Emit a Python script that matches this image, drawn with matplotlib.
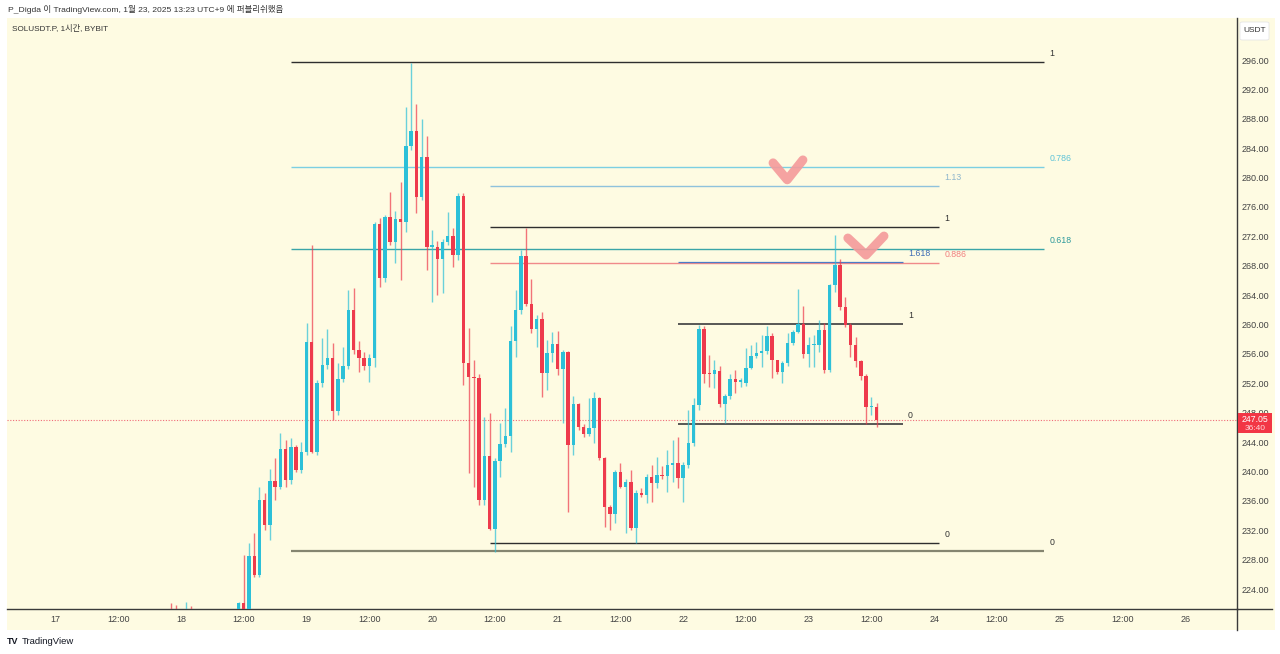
import matplotlib
matplotlib.use("Agg")
import matplotlib.pyplot as plt
from matplotlib.patches import Rectangle, FancyBboxPatch
from matplotlib.lines import Line2D
import numpy as np

# ---------------- data ----------------
# hourly candles, hour index relative to 18 Jan 00:00 (UTC+9): -2 .. 133
hours = list(range(-2, 134))
opens = [
    221.3, 220.6, 220.1, 220.5, 221.0, 220.3, 219.8, 220.2, 219.6, 220.0,      # -2..7
    219.5, 219.9, 220.3, 220.6, 222.09, 220.9, 228.49, 225.90, 236.11, 232.71,  # 8..17
    238.70, 237.88, 243.05, 238.83, 243.33, 240.19, 242.64, 257.62, 242.64, 252.04,
    254.49, 255.44, 248.23, 252.58, 254.35, 261.97, 256.53, 255.44, 254.35, 255.44,
    273.68, 266.33, 274.63, 271.23, 274.36, 273.95, 284.29, 286.34, 277.35, 282.80,
    270.55, 270.55, 268.91, 271.23, 272.04, 269.46, 277.49, 254.76, 252.85, 252.72,
    236.11, 242.10, 232.16, 241.42, 243.73, 244.82, 257.75, 261.97, 269.32, 262.79,
    259.39, 260.75, 253.40, 256.12, 257.34, 253.94, 256.26, 243.60, 249.18, 246.05,
    245.09, 245.91, 250.00, 241.83, 235.16, 234.21, 239.92, 237.88, 238.56, 232.30,
    237.06, 236.79, 239.24, 238.43, 239.51, 239.38, 240.88, 241.15, 239.11, 240.88,
    243.87, 249.04, 259.39, 253.40, 253.26, 253.67, 249.18, 250.27, 252.58, 252.17,
    252.04, 254.08, 255.71, 256.12, 256.39, 258.43, 255.17, 253.53, 254.76, 257.48,
    258.98, 260.07, 255.98, 257.21, 257.21, 259.25, 253.81, 265.37, 268.10, 262.38,
    259.93, 257.21, 255.03, 252.99, 248.77, 248.80]
closes = [
    220.6, 220.1, 220.5, 221.0, 220.3, 219.8, 220.2, 219.6, 220.0, 219.5,
    219.9, 220.3, 220.6, 222.09, 220.9, 228.49, 225.90, 236.11, 232.71, 238.70,
    237.88, 243.05, 238.83, 243.33, 240.19, 242.64, 257.62, 242.64, 252.04, 254.49,
    255.44, 248.23, 252.58, 254.35, 261.97, 256.53, 255.44, 254.35, 255.44, 273.68,
    266.33, 274.63, 271.23, 274.36, 273.95, 284.29, 286.34, 277.35, 282.80, 270.55,
    270.82, 268.91, 271.23, 272.04, 269.46, 277.49, 254.76, 252.85, 252.72, 236.11,
    242.10, 232.16, 241.42, 243.73, 244.82, 257.75, 261.97, 269.32, 262.79, 259.39,
    260.75, 253.40, 256.12, 257.34, 253.94, 256.26, 243.60, 249.18, 246.05, 245.09,
    245.91, 250.00, 241.83, 235.16, 234.21, 239.92, 237.88, 238.56, 232.30, 237.06,
    236.79, 239.24, 238.43, 239.51, 239.38, 240.88, 241.15, 239.11, 240.88, 243.87,
    249.04, 259.39, 253.26, 253.26, 253.81, 249.18, 250.27, 252.58, 252.17, 252.44,
    254.08, 255.71, 256.12, 256.39, 258.43, 255.17, 253.53, 254.76, 257.48, 258.98,
    260.07, 255.98, 257.21, 257.34, 259.25, 253.81, 265.37, 268.10, 262.38, 259.93,
    257.21, 255.03, 252.99, 248.77, 248.91, 247.05]
highs = [
    222.09, 221.82, 220.9, 222.2, 221.68, 220.8, 220.6, 220.7, 220.4, 220.5,
    220.3, 220.6, 220.9, 222.3, 228.63, 230.26, 231.62, 237.88, 237.06, 240.33,
    241.83, 245.23, 244.28, 244.55, 243.6, 244.01, 260.20, 270.82, 252.5, 258.16,
    259.39, 257.48, 254.76, 256.94, 264.69, 264.97, 257.75, 256.3, 256.0, 274.0,
    274.49, 274.90, 278.03, 275.45, 279.39, 289.60, 295.59, 290.01, 287.97, 285.66,
    272.86, 271.36, 271.6, 275.31, 273.13, 277.9, 277.90, 259.52, 255.17, 253.2,
    247.41, 247.95, 241.8, 246.59, 248.63, 259.79, 264.69, 270.14, 273.13, 266.19,
    261.3, 261.70, 257.89, 258.98, 259.12, 256.53, 256.4, 250.27, 249.31, 246.5,
    250.00, 250.81, 250.13, 242.0, 235.43, 240.19, 241.15, 239.0, 240.19, 237.47,
    237.75, 239.6, 240.88, 241.96, 240.74, 242.92, 244.28, 244.69, 241.3, 248.36,
    250.00, 259.93, 259.79, 255.85, 255.17, 254.35, 250.6, 253.26, 253.81, 252.72,
    256.80, 257.21, 257.62, 258.57, 259.79, 258.84, 255.17, 255.0, 258.84, 259.25,
    264.83, 262.52, 258.30, 258.57, 260.61, 260.20, 265.5, 272.18, 268.91, 263.74,
    260.20, 258.30, 255.17, 253.26, 250.13, 249.31]
lows = [
    220.2, 219.8, 219.7, 220.1, 219.9, 219.4, 219.5, 219.2, 219.3, 219.1,
    219.2, 219.6, 219.9, 220.2, 220.2, 220.5, 225.63, 225.6, 232.03, 230.67,
    236.11, 237.6, 237.88, 238.3, 239.9, 239.8, 242.2, 242.5, 242.3, 251.5,
    254.0, 247.0, 247.68, 252.2, 253.9, 256.0, 253.53, 253.8, 252.17, 254.21,
    265.10, 265.8, 270.8, 268.37, 266.06, 272.59, 283.8, 275.18, 276.9, 267.42,
    263.06, 264.01, 264.29, 270.8, 267.83, 268.78, 251.76, 239.79, 237.88, 235.43,
    235.43, 232.0, 229.03, 239.24, 243.3, 242.64, 255.58, 261.5, 262.5, 258.84,
    256.94, 250.13, 251.08, 254.89, 253.12, 246.59, 234.48, 242.24, 245.7, 244.7,
    244.8, 243.87, 241.6, 232.44, 232.03, 232.98, 237.75, 231.62, 232.1, 230.26,
    236.5, 235.70, 235.84, 237.75, 239.0, 237.20, 238.56, 237.75, 235.84, 240.5,
    243.5, 248.36, 252.04, 251.49, 251.36, 248.77, 246.59, 249.9, 250.68, 251.49,
    251.7, 253.9, 255.4, 254.21, 256.0, 252.72, 253.2, 252.04, 254.4, 257.2,
    258.84, 255.44, 254.21, 254.21, 256.26, 253.40, 253.6, 264.42, 262.0, 259.6,
    255.58, 254.21, 252.44, 246.46, 247.68, 246.05]

# Fibonacci retracement tools (price of anchor 1, price of anchor 0, start hour, end hour, levels)
fib1_high, fib1_low, fib1_x = 295.73, 229.17, (21, 165)
fib1_levels = [1, 0.786, 0.618, 0]
fib2_high, fib2_low, fib2_x = 273.27, 230.26, (59, 145)
fib2_levels = [1.13, 1, 0.886, 0]
fib3_high, fib3_low, fib3_x = 260.07, 246.46, (95, 138)
fib3_levels = [1.618, 1, 0]

last_price = 247.05
countdown = "36:40"

x_tick_hours = [-24, -12, 0, 12, 24, 36, 48, 60, 72, 84, 96, 108, 120, 132, 144, 156, 168, 180, 192]
x_tick_labels = ["17", "12:00", "18", "12:00", "19", "12:00", "20", "12:00", "21", "12:00",
                 "22", "12:00", "23", "12:00", "24", "12:00", "25", "12:00", "26"]
y_ticks = list(range(224, 297, 4))

# hand-drawn check marks (hour, price)
check1_h = [113.2, 115.9, 118.9]
check1_p = [282.0, 279.7, 282.4]
check2_h = [127.5, 130.97, 134.4]
check2_p = [271.77, 269.46, 272.04]

# ---------------- style ----------------
BG = "#fefbe2"
UP = "#2cc0d8"
DN = "#ee3a4c"
FONT = ["Liberation Sans", "Noto Sans CJK KR", "DejaVu Sans"]
plt.rcParams["font.family"] = FONT

W, H = 1280, 654
fig = plt.figure(figsize=(12.8, 6.54), dpi=100, facecolor="white")

def fx(px):
    return px / W

def fy(py):
    return 1 - py / H

# yellow panel (behind everything)
fig.patches.append(Rectangle((fx(7), fy(630)), fx(1275) - fx(7), fy(18) - fy(630),
                             transform=fig.transFigure, facecolor=BG, edgecolor="none", zorder=-10))

ax = fig.add_axes([fx(7), fy(609), fx(1237) - fx(7), fy(18) - fy(609)])
ax.set_zorder(1)
ax.set_facecolor(BG)
ax.patch.set_alpha(0)

ax.set_xlim(-33.27, 201.9)
ax.set_ylim(221.28, 301.72)

hours_a = np.array(hours)
o = np.array(opens); c = np.array(closes); hi = np.array(highs); lo = np.array(lows)
up = c >= o
cols = np.where(up, UP, DN)
ax.vlines(hours_a, lo, hi, colors=cols, linewidth=1.0, alpha=0.7, zorder=3)
bottom = np.minimum(o, c)
height = np.maximum(np.abs(c - o), 0.14)
ax.bar(hours_a, height, bottom=bottom, width=0.66, color=cols, edgecolor="none", zorder=4)

# fib tools
def draw_fib(high, low, xr, levels, styles, label_x):
    for lvl in levels:
        price = low + lvl * (high - low)
        col, lw, tcol = styles[lvl]
        ax.hlines(price, xr[0], xr[1], colors=col, linewidth=lw, zorder=2)
        lab = ("%g" % lvl)
        ax.text(label_x, price + 0.55, lab, color=tcol, fontsize=6.3, ha="left", va="bottom", zorder=6)

fib1_styles = {1: ("#2e2e2e", 1.0, "#333333"), 0.786: ("#7ccfe2", 1.0, "#5fc3d8"),
               0.618: ("#3aa5a8", 1.0, "#2e9a9c"), 0: ("#858570", 1.6, "#333333")}
fib2_styles = {1.13: ("#8fc2dc", 1.0, "#8fb6cc"), 1: ("#2e2e2e", 1.0, "#333333"),
               0.886: ("#f08a8a", 1.0, "#f07f7f"), 0: ("#2e2e2e", 1.0, "#333333")}
fib3_styles = {1.618: ("#4a7cc8", 0.9, "#3d6cb4"), 1: ("#4a4a4a", 1.3, "#333333"),
               0: ("#4a4a4a", 1.3, "#333333")}
draw_fib(fib1_high, fib1_low, fib1_x, fib1_levels, fib1_styles, fib1_x[1] + 1.1)
draw_fib(fib2_high, fib2_low, fib2_x, fib2_levels, fib2_styles, fib2_x[1] + 1.0)
draw_fib(fib3_high, fib3_low, fib3_x, fib3_levels, fib3_styles, fib3_x[1] + 1.0)

# current price dotted line
ax.axhline(last_price, color="#f06a78", linestyle=(0, (1, 1.5)), linewidth=0.8, zorder=1)

# check marks
for hh, pp in [(check1_h, check1_p), (check2_h, check2_p)]:
    ax.plot(hh, pp, color="#f49a9a", linewidth=6.5, solid_capstyle="round",
            solid_joinstyle="round", alpha=0.9, zorder=7)

# axes styling
for s in ["top", "left"]:
    ax.spines[s].set_visible(False)
ax.spines["right"].set_color("#3a3a3a")
ax.spines["bottom"].set_color("#3a3a3a")
ax.spines["right"].set_linewidth(1.0)
ax.spines["bottom"].set_linewidth(1.0)

ax.set_xticks(x_tick_hours)
ax.set_xticklabels(x_tick_labels)
ax.tick_params(axis="x", length=0, pad=4.5, labelsize=6.5, labelcolor="#444444")
ax.yaxis.tick_right()
ax.set_yticks(y_ticks)
ax.set_yticklabels(["%.2f" % v for v in y_ticks])
ax.tick_params(axis="y", length=0, pad=3.5, labelsize=6.5, labelcolor="#444444")
for lab in ax.get_yticklabels():
    lab.set_horizontalalignment("left")

# extend axis lines across margins
fig.add_artist(Line2D([fx(1237), fx(1237)], [fy(609), fy(630)], transform=fig.transFigure,
                      color="#3a3a3a", linewidth=1.0))
fig.add_artist(Line2D([fx(1237), fx(1272)], [fy(609), fy(609)], transform=fig.transFigure,
                      color="#3a3a3a", linewidth=1.0))

# price tag (drawn above the axes)
tag = Rectangle((fx(1238), fy(433)), fx(1272) - fx(1238), fy(413) - fy(433),
                transform=fig.transFigure, facecolor="#f23645", edgecolor="none", zorder=5)
fig.add_artist(tag)
fig.text(fx(1255), fy(419), "%.2f" % last_price, color="white", fontsize=6.3, ha="center", va="center", zorder=6)
fig.text(fx(1255), fy(428), countdown, color="#ffd6da", fontsize=6.0, ha="center", va="center", zorder=6)

# USDT box
fig.add_artist(FancyBboxPatch((fx(1240), fy(40)), fx(1269) - fx(1240), fy(22) - fy(40),
                              boxstyle="round,pad=0,rounding_size=0.002",
                              transform=fig.transFigure, facecolor="white", edgecolor="#e6e6e6",
                              linewidth=0.6, zorder=5))
fig.text(fx(1254.5), fy(31), "USDT", color="#333333", fontsize=6.0, ha="center", va="center", zorder=6)

# header texts
fig.text(fx(8), fy(9), "P_Digda 이 TradingView.com, 1월 23, 2025 13:23 UTC+9 에 퍼블리쉬했음",
         color="#333333", fontsize=6.1, ha="left", va="center", family=FONT)
fig.text(fx(12), fy(29), "SOLUSDT.P, 1시간, BYBIT", color="#333333", fontsize=5.9,
         ha="left", va="center", family=FONT)

# footer
fig.text(fx(7), fy(641), "TV", color="#131722", fontsize=6.5, fontweight="bold",
         ha="left", va="center")
fig.text(fx(22), fy(641), "TradingView", color="#131722", fontsize=6.8, ha="left", va="center")

fig.savefig("out.png", dpi=100, facecolor="white")
